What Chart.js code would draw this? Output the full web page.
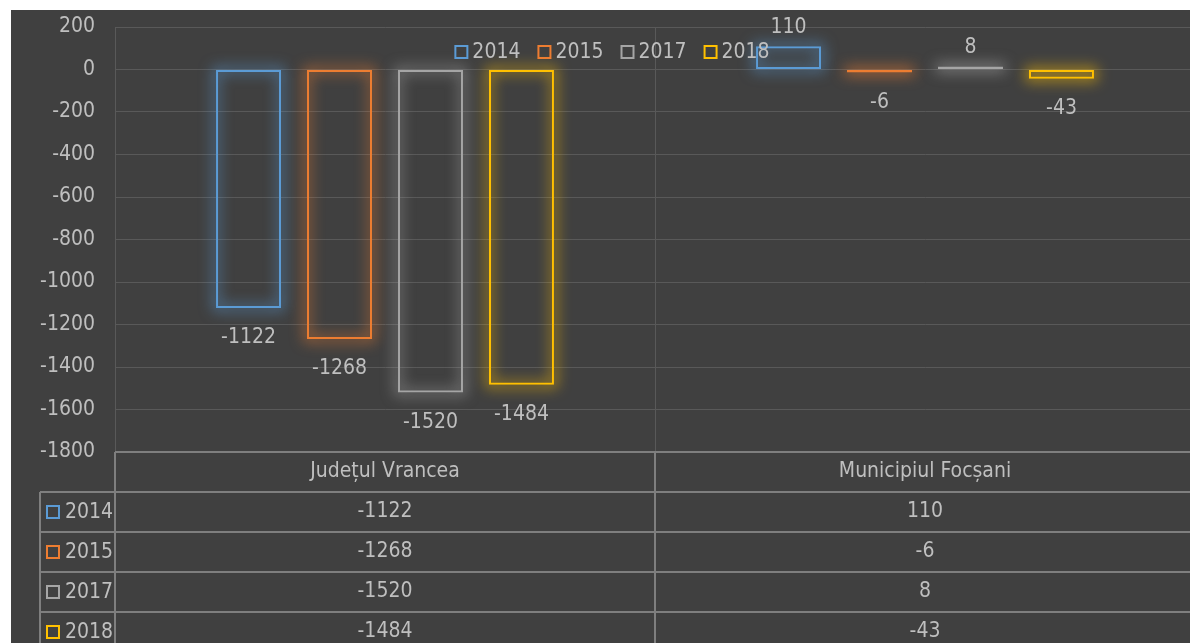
<!DOCTYPE html>
<html>
<head>
<meta charset="utf-8">
<script src="https://cdn.jsdelivr.net/npm/chart.js@4.4.1/dist/chart.umd.min.js"></script>
<style>
html,body{margin:0;padding:0;background:#fff;overflow:hidden;width:1190px;height:643px;}
#wrap{position:absolute;left:11px;top:10px;width:1184px;height:633px;background:#404040;}
</style>
</head>
<body>
<div id="wrap"><canvas id="grafica"></canvas></div>
<script>
// date
const categorii = ["Județul Vrancea", "Municipiul Focșani"];
const ani = ["2014", "2015", "2017", "2018"];
const valori2014 = [-1122, 110];
const valori2015 = [-1268, -6];
const valori2017 = [-1520, 8];
const valori2018 = [-1484, -43];
const culori = ["#5b9bd5", "#ed7d31", "#a5a5a5", "#ffc000"];
const tickuri = [200, 0, -200, -400, -600, -800, -1000, -1200, -1400, -1600, -1800];

const serii = [valori2014, valori2015, valori2017, valori2018];
const FONT = '"Liberation Sans Narrow", "Arial Narrow", "DejaVu Sans Condensed", sans-serif';
const TEXT = "#bfbfbf";

function rgba(hex, a){
    const n = parseInt(hex.slice(1), 16);
    return "rgba(" + (n >> 16) + "," + ((n >> 8) & 255) + "," + (n & 255) + "," + a + ")";
}

// halou in jurul barelor (doar umbra, conturul e desenat in afara ecranului)
const glow = {
    id: "glow",
    beforeDatasetsDraw(chart){
        const ctx = chart.ctx;
        const off = 10000;
        chart.data.datasets.forEach((ds, i) => {
            chart.getDatasetMeta(i).data.forEach(bar => {
                const p = bar.getProps(["x", "y", "base", "width"], true);
                ctx.save();
                ctx.shadowColor = rgba(culori[i], 0.75);
                ctx.shadowBlur = 14;
                ctx.shadowOffsetX = off;
                ctx.strokeStyle = "#000";
                ctx.lineWidth = 5;
                ctx.strokeRect(p.x - p.width / 2 - off, Math.min(p.y, p.base), p.width, Math.abs(p.base - p.y));
                ctx.restore();
            });
        });
    }
};

// etichete valori
const etichete = {
    id: "etichete",
    afterDatasetsDraw(chart){
        const ctx = chart.ctx;
        ctx.save();
        ctx.font = "21px " + FONT;
        ctx.fillStyle = TEXT;
        ctx.textAlign = "center";
        ctx.textBaseline = "middle";
        chart.data.datasets.forEach((ds, i) => {
            chart.getDatasetMeta(i).data.forEach((bar, j) => {
                const v = ds.data[j];
                const y = v < 0 ? bar.y + 30 : bar.y - 19;
                ctx.fillText(String(v), bar.x, y);
            });
        });
        ctx.restore();
    }
};

// legenda + tabel de date
const tabel = {
    id: "tabel",
    afterDraw(chart){
        const ctx = chart.ctx;
        const area = chart.chartArea;
        const xs = chart.scales.x;
        ctx.save();
        ctx.font = "21px " + FONT;
        ctx.textBaseline = "middle";

        // legenda sus
        const box = 14, gap = 4, sp = 17;
        let total = 0;
        const w = ani.map(a => ctx.measureText(a).width);
        w.forEach(x => total += box + gap + x);
        total += sp * (ani.length - 1);
        let lx = chart.width / 2 + 9 - total / 2;
        const ly = 42;
        ani.forEach((a, i) => {
            ctx.strokeStyle = culori[i];
            ctx.lineWidth = 2;
            ctx.strokeRect(lx + 1, ly - box / 2 + 1, box - 2, box - 2);
            ctx.fillStyle = TEXT;
            ctx.textAlign = "left";
            ctx.fillText(a, lx + box + gap, ly + 1);
            lx += box + gap + w[i] + sp;
        });

        // tabel
        const top = area.bottom;
        const rh = 40;
        const left = 29;
        const stanga = xs.getPixelForValue(0) - (xs.getPixelForValue(1) - xs.getPixelForValue(0)) / 2;
        const mijloc = (xs.getPixelForValue(0) + xs.getPixelForValue(1)) / 2;
        const dreapta = chart.width + 5;
        ctx.strokeStyle = "#7f7f7f";
        ctx.lineWidth = 2;
        ctx.beginPath();
        ctx.moveTo(stanga, top); ctx.lineTo(dreapta, top);
        for (let r = 1; r <= ani.length; r++) {
            ctx.moveTo(left, top + rh * r); ctx.lineTo(dreapta, top + rh * r);
        }
        ctx.moveTo(left, top + rh); ctx.lineTo(left, chart.height + 5);
        ctx.moveTo(stanga, top); ctx.lineTo(stanga, chart.height + 5);
        ctx.moveTo(mijloc, top); ctx.lineTo(mijloc, chart.height + 5);
        ctx.stroke();

        ctx.fillStyle = TEXT;
        ctx.textAlign = "center";
        categorii.forEach((c, j) => ctx.fillText(c, xs.getPixelForValue(j), top + rh / 2));
        serii.forEach((s, i) => {
            const cy = top + rh * (i + 1) + rh / 2;
            s.forEach((v, j) => {
                ctx.textAlign = "center";
                ctx.fillStyle = TEXT;
                ctx.fillText(String(v), xs.getPixelForValue(j), cy);
            });
            ctx.strokeStyle = culori[i];
            ctx.lineWidth = 2;
            ctx.strokeRect(left + 7, cy - 6, 12, 12);
            ctx.textAlign = "left";
            ctx.fillStyle = TEXT;
            ctx.fillText(ani[i], left + 25, cy + 1);
        });
        ctx.restore();
    }
};

const ctx1 = document.getElementById("grafica");
new Chart(ctx1, {
    type: "bar",
    data: {
        labels: categorii,
        datasets: ani.map((a, i) => ({
            label: a,
            data: serii[i],
            backgroundColor: "transparent",
            borderColor: culori[i],
            borderWidth: 2,
            borderSkipped: false,
            inflateAmount: 0,
            minBarLength: 3,
            categoryPercentage: 0.674,
            barPercentage: 0.714
        }))
    },
    options: {
        responsive: true,
        maintainAspectRatio: false,
        animation: false,
        layout: { padding: { top: 17, bottom: 191, left: 0, right: 0 } },
        plugins: {
            legend: { display: false },
            tooltip: { enabled: false }
        },
        scales: {
            x: {
                grid: { color: "#595959", lineWidth: 1, drawTicks: false, offset: true },
                border: { display: false },
                ticks: { display: false },
                afterFit: s => { s.height = 0; }
            },
            y: {
                min: tickuri[tickuri.length - 1],
                max: tickuri[0],
                afterFit: s => { s.width = 104; },
                afterBuildTicks: s => { s.ticks = tickuri.map(v => ({ value: v })); },
                grid: { color: "#595959", lineWidth: 1, drawTicks: true, tickLength: 20, tickColor: "transparent" },
                border: { display: true, color: "#595959" },
                ticks: {
                    color: TEXT, padding: 0, font: { family: FONT, size: 21 },
                    callback: v => String(v)
                }
            }
        }
    },
    plugins: [glow, etichete, tabel]
});
</script>
</body>
</html>
